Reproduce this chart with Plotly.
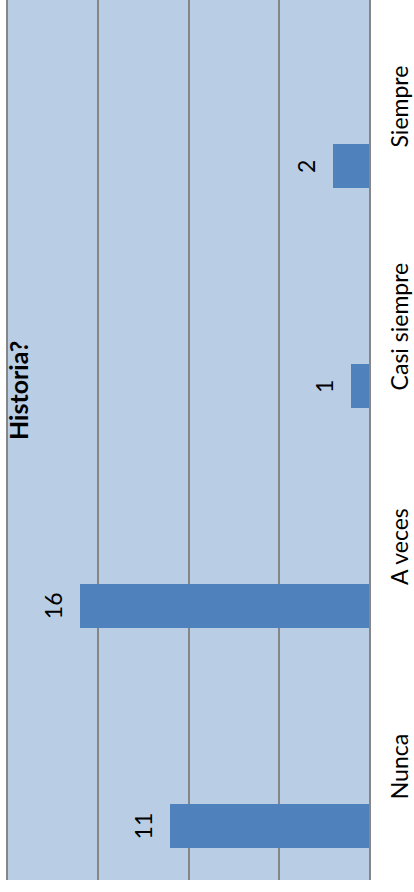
import plotly.graph_objects as go

# Survey answers and their counts
categories = ["Nunca", "A veces", "Casi siempre", "Siempre"]
counts = [11, 16, 1, 2]
title_text = "Historia?"

BAR_COLOR = "#4f81bd"
PLOT_BG = "#b9cde5"
GRID = "#868686"
FONT = "Lato"

# bars sit below the category centre, each 0.2 of a category band wide
BAR_WIDTH = 0.2
BAR_OFFSET = -0.3545

fig = go.Figure(
    go.Bar(
        y=categories,
        x=counts,
        orientation="h",
        marker=dict(color=BAR_COLOR, line=dict(width=0)),
        width=BAR_WIDTH,
        offset=BAR_OFFSET,
        hoverinfo="skip",
    )
)

# value labels, rotated, just past the end of each bar
for i, v in enumerate(counts):
    fig.add_annotation(
        x=v, y=i + BAR_OFFSET + BAR_WIDTH / 2,
        xref="x", yref="y",
        text=str(v), showarrow=False, textangle=-90,
        xshift=-27, xanchor="center", yanchor="middle",
        font=dict(family=FONT, size=23, color="#000000"),
    )

# chart title, rotated along the left edge
fig.add_annotation(
    x=(18 - 8) / 361, y=1 - 391 / 880,
    xref="paper", yref="paper",
    text="<b>" + title_text + "</b>", showarrow=False, textangle=-90,
    xanchor="center", yanchor="middle",
    font=dict(family=FONT, size=25, color="#000000"),
)

fig.update_layout(
    width=414, height=892,
    margin=dict(l=8, r=45, t=0, b=12, autoexpand=False),
    paper_bgcolor="#ffffff",
    plot_bgcolor=PLOT_BG,
    showlegend=False,
    bargap=0,
    xaxis=dict(
        range=[20, 0], dtick=5, showgrid=True, gridcolor=GRID, gridwidth=1.5,
        zeroline=False, showticklabels=False, showline=False, fixedrange=True,
        automargin=False,
    ),
    yaxis=dict(
        type="category", categoryorder="array", categoryarray=categories,
        range=[-0.5, 3.5], side="right", tickangle=-90,
        showgrid=False, zeroline=False,
        showline=True, mirror=True, linecolor=GRID, linewidth=1.5,
        ticks="outside", ticklen=0, ticklabelstandoff=10,
        tickfont=dict(family=FONT, size=23, color="#000000"),
        fixedrange=True, automargin=False,
    ),
)

fig.write_html("out.html")
